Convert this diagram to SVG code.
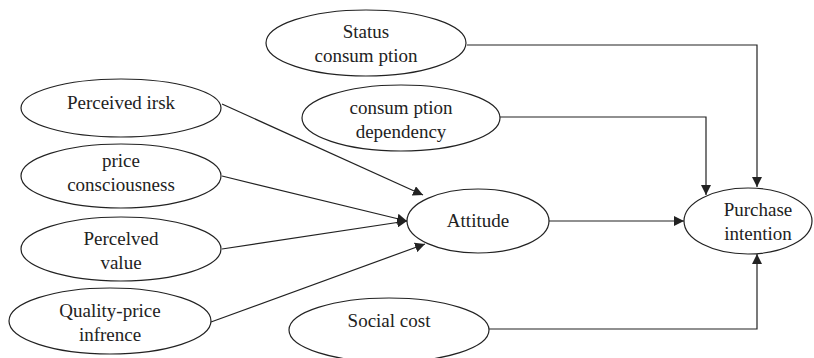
<svg xmlns="http://www.w3.org/2000/svg" width="814" height="358" viewBox="0 0 814 358">
<defs>
<marker id="ah" viewBox="0 0 10 10" refX="10" refY="5" markerWidth="10" markerHeight="10" markerUnits="userSpaceOnUse" orient="auto">
<path d="M0,0 L10,5 L0,10 z" fill="#222"/>
</marker>
<style>
ellipse{fill:#fff;stroke:#222;stroke-width:1.2}
text{font-family:'Liberation Serif',serif;font-size:19px;fill:#222;text-anchor:middle}
.c{fill:none;stroke:#222;stroke-width:1.2;marker-end:url(#ah)}
</style>
</defs>
<rect width="814" height="358" fill="#fff"/>
<g id="connectors">
<path class="c" d="M467,45 H757 V187"/>
<path class="c" d="M500,117 H706 V195"/>
<path class="c" d="M489,329 H757 V254"/>
<path class="c" d="M549,221 H684"/>
<path class="c" d="M222,104 L423,195"/>
<path class="c" d="M222,176 L407,221"/>
<path class="c" d="M222,249 L407,221"/>
<path class="c" d="M211,322 L425,244"/>
</g>
<g id="status"><ellipse cx="366" cy="43" rx="100" ry="33"/><text x="366" y="38" font-family="Liberation Serif">Status</text><text x="366" y="62" font-family="Liberation Serif">consum ption</text></g>
<g id="dependency"><ellipse cx="401" cy="118" rx="99" ry="33"/><text x="401" y="114" font-family="Liberation Serif">consum ption</text><text x="401" y="138" font-family="Liberation Serif">dependency</text></g>
<g id="risk"><ellipse cx="121" cy="108" rx="100" ry="29"/><text x="121" y="109" font-family="Liberation Serif">Perceived irsk</text></g>
<g id="price"><ellipse cx="121" cy="176" rx="100" ry="32"/><text x="121" y="167" font-family="Liberation Serif">price</text><text x="121" y="191" font-family="Liberation Serif">consciousness</text></g>
<g id="value"><ellipse cx="121" cy="249" rx="100" ry="32"/><text x="121" y="245" font-family="Liberation Serif">Percelved</text><text x="121" y="269" font-family="Liberation Serif">value</text></g>
<g id="quality"><ellipse cx="110" cy="321" rx="101" ry="33"/><text x="110" y="317" font-family="Liberation Serif">Quality-price</text><text x="110" y="341" font-family="Liberation Serif">infrence</text></g>
<g id="social"><ellipse cx="389" cy="330" rx="100" ry="32"/><text x="389" y="327" font-family="Liberation Serif">Social cost</text></g>
<g id="attitude"><ellipse cx="478" cy="221" rx="71" ry="32"/><text x="478" y="227" font-family="Liberation Serif">Attitude</text></g>
<g id="purchase"><ellipse cx="748" cy="221" rx="64" ry="33"/><text x="758" y="216" font-family="Liberation Serif">Purchase</text><text x="758" y="240" font-family="Liberation Serif">intention</text></g>
</svg>
